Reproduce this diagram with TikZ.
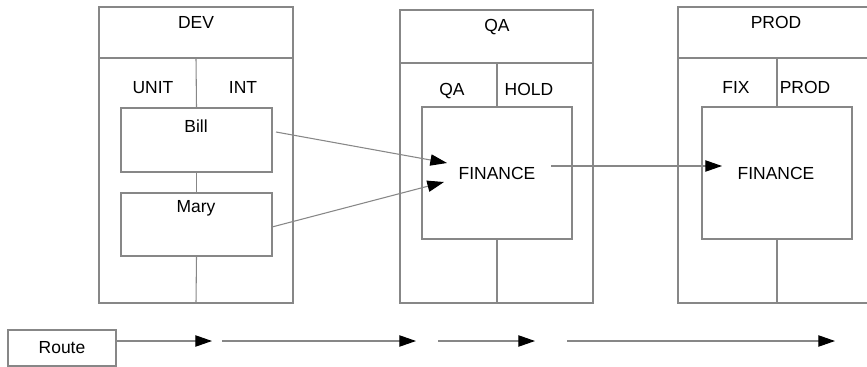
\documentclass[tikz,border=0pt]{standalone}
\usepackage{fontspec}
\setmainfont{Liberation Sans}
\usetikzlibrary{arrows.meta,fit}
\definecolor{rule}{RGB}{135,135,135}
\begin{document}
\begin{tikzpicture}[x=0.75pt,y=-0.75pt,
  frame/.style={draw=rule,line width=0.8pt,inner sep=0pt},
  lbl/.style={font=\fontsize{13.1}{15}\selectfont,inner sep=0pt,anchor=base},
  seg/.style={draw=rule,line width=0.8pt},
  link/.style={draw=rule,line width=0.8pt,-{Triangle[length=12.5pt,width=8.5pt,color=black]}}]
\clip (0,0) rectangle (867,367);

% stage frames
\node[frame,fit={(99,7)(293,303)}] (dev) {};
\node[frame,fit={(400,10)(593,303)}] (qa) {};
\node[frame,fit={(678,7)(890,303)}] (prod) {};

% header dividers
\draw[seg] (99,58) -- (293,58);
\draw[seg] (400,63) -- (593,63);
\draw[seg] (678,58) -- (890,58);

% stage titles and column headings
\node[lbl] (devt) at (196,29) {DEV};
\node[lbl] (qat) at (497,32) {QA};
\node[lbl] (prodt) at (776,29) {PROD};
\node[lbl] (unit) at (153,94) {UNIT};
\node[lbl] (int) at (243,94) {INT};
\node[lbl] (qac) at (452,96) {QA};
\node[lbl] (hold) at (529,96) {HOLD};
\node[lbl] (fix) at (736,94) {FIX};
\node[lbl] (prodc) at (805,94) {PROD};

% inner boxes
\node[frame,fit={(121,108)(272,172)}] (bill) {};
\node[frame,fit={(121,193)(272,256)}] (mary) {};
\node[frame,fit={(422,107)(572,239)}] (finqa) {};
\node[frame,fit={(702,107)(852,239)}] (finprod) {};
\node[lbl] (billt) at (196,133) {Bill};
\node[lbl] (maryt) at (196,213) {Mary};
\node[lbl] (finqat) at (497,180) {FINANCE};
\node[lbl] (finprodt) at (776,180) {FINANCE};

% column separators
\draw[seg] (196,58) -- (bill.north);
\draw[seg] (bill.south) -- (mary.north);
\draw[seg] (mary.south) -- (196,303);
\draw[seg] (497,63) -- (finqa.north);
\draw[seg] (finqa.south) -- (497,303);
\draw[seg] (777,58) -- (finprod.north);
\draw[seg] (finprod.south) -- (777,303);

% promotion arrows
\coordinate (billout) at (276,132);
\coordinate (maryout) at (272,227);
\coordinate (qain1) at (447,163);
\coordinate (qain2) at (444,182);
\coordinate (qaout) at (551,166);
\coordinate (prodin) at (722,166);
\draw[link] (billout) -- (qain1);
\draw[link] (maryout) -- (qain2);
\draw[link] (qaout) -- (prodin);

% route legend
\node[frame,fit={(8,330)(116,366)}] (route) {};
\node[lbl] (routet) at (62,353) {Route};
\coordinate (r0) at (116,341);
\coordinate (r1) at (212,341);
\coordinate (r2) at (222,341);
\coordinate (r3) at (416,341);
\coordinate (r4) at (438,341);
\coordinate (r5) at (535,341);
\coordinate (r6) at (567,341);
\coordinate (r7) at (835,341);
\draw[link] (r0) -- (r1);
\draw[link] (r2) -- (r3);
\draw[link] (r4) -- (r5);
\draw[link] (r6) -- (r7);
\end{tikzpicture}
\end{document}
